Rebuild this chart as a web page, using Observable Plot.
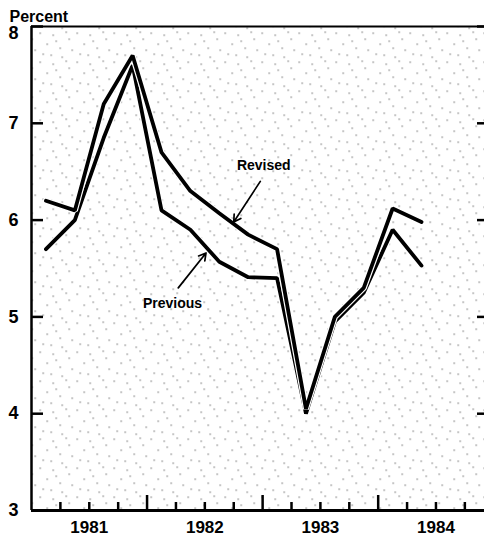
<!DOCTYPE html>
<html><head><meta charset="utf-8">
<script src="https://cdn.jsdelivr.net/npm/d3@7"></script>
<script src="https://cdn.jsdelivr.net/npm/@observablehq/plot@0.6"></script>
<style>
body{margin:0;background:#fff}
#chart svg{display:block}
</style>
</head><body><div id="chart"></div>
<script>
// ---- data ----
const quarters = ["1981Q1","1981Q2","1981Q3","1981Q4","1982Q1","1982Q2","1982Q3","1982Q4","1983Q1","1983Q2","1983Q3","1983Q4","1984Q1","1984Q2"];
const revised  = [6.2, 6.1, 7.2, 7.7, 6.7, 6.3, 6.07, 5.85, 5.7, 4.05, 5.0, 5.3, 6.12, 5.98];
const previous = [5.7, 6.0, 6.85, 7.6, 6.1, 5.9, 5.57, 5.41, 5.4, 4.0, 4.95, 5.25, 5.9, 5.53];
const yTicks = [3, 4, 5, 6, 7, 8];
const yTickLabels = [3, 4, 5, 6, 7];
const yTopLabel = [8];
const years = [1981, 1982, 1983, 1984];
const yearBoundaries = [1982, 1983, 1984];
const quarterBoundaries = [1981.25, 1981.5, 1981.75, 1982.25, 1982.5, 1982.75, 1983.25, 1983.5, 1983.75, 1984.25, 1984.5, 1984.75];
const labelNames = ["Revised", "Previous"];
const labelX = [1983.01, 1982.22];
const labelY = [6.56, 5.14];
const arrowFromX = [1982.98, 1982.27];
const arrowFromY = [6.40, 5.30];
const arrowToX = [1982.75, 1982.51];
const arrowToY = [5.98, 5.66];

const qx = q => +q.slice(0, 4) + (+q.slice(5) - 0.5) / 4;
const revData = quarters.map((q, i) => ({x: qx(q), y: revised[i]}));
const prevData = quarters.map((q, i) => ({x: qx(q), y: previous[i]}));
const labels = labelNames.map((t, i) => ({text: t, x: labelX[i], y: labelY[i]}));
const arrows = labelNames.map((t, i) => ({x1: arrowFromX[i], y1: arrowFromY[i], x2: arrowToX[i], y2: arrowToY[i]}));

const font = "'Liberation Sans', Arial, Helvetica, sans-serif";

const chart = Plot.plot({
  width: 484,
  height: 538,
  marginLeft: 31,
  marginRight: 0,
  marginTop: 26,
  marginBottom: 28,
  style: {fontFamily: font, fontWeight: "bold", fontSize: "16px", color: "#000", background: "#fff"},
  x: {domain: [1981, 1984.92]},
  y: {domain: [3, 8]},
  marks: [
    Plot.frame({fill: "url(#stipple)", stroke: null}),
    // y ticks (inward) left and right
    Plot.axisY(yTicks, {anchor: "left", tickSize: -12, tickFormat: () => "", label: null, strokeWidth: 2.5}),
    Plot.axisY(yTicks, {anchor: "right", tickSize: -8, tickFormat: () => "", label: null, strokeWidth: 2.5}),
    Plot.axisY(yTickLabels, {anchor: "left", tickSize: 0, tickPadding: 13, tickFormat: d => String(d), label: null, fontSize: 18, fontWeight: "bold"}),
    Plot.axisY(yTopLabel, {anchor: "left", tickSize: 0, tickPadding: 13, tickFormat: d => String(d), label: null, fontSize: 18, fontWeight: "bold", dy: 7}),
    // x ticks (inward)
    Plot.axisX(quarterBoundaries, {anchor: "bottom", tickSize: -8, tickFormat: () => "", label: null, strokeWidth: 2.5}),
    Plot.axisX(yearBoundaries, {anchor: "bottom", tickSize: -15, tickFormat: () => "", label: null, strokeWidth: 2.5}),
    Plot.axisX(years.map(y => y + 0.5), {anchor: "bottom", tickSize: 0, tickPadding: 10, tickFormat: d => String(Math.floor(d)), label: null, fontSize: 17, fontWeight: "bold"}),
    // frame lines
    Plot.ruleX([1981], {strokeWidth: 2.5}),
    Plot.ruleY([3], {strokeWidth: 3}),
    Plot.ruleY([8], {strokeWidth: 2}),
    // series
    Plot.line(prevData, {x: "x", y: "y", stroke: "#fff", strokeWidth: 6.2, strokeLinejoin: "miter"}),
    Plot.line(prevData, {x: "x", y: "y", stroke: "#000", strokeWidth: 3.8, strokeLinejoin: "miter"}),
    Plot.line(revData, {x: "x", y: "y", stroke: "#fff", strokeWidth: 6.2, strokeLinejoin: "miter"}),
    Plot.line(revData, {x: "x", y: "y", stroke: "#000", strokeWidth: 3.8, strokeLinejoin: "miter"}),
    // annotations
    Plot.arrow(arrows, {x1: "x1", y1: "y1", x2: "x2", y2: "y2", stroke: "#000", strokeWidth: 1.7, headLength: 7}),
    Plot.text(labels, {x: "x", y: "y", text: "text", fontSize: 14, fontWeight: "bold", fill: "#000"}),
    Plot.text(["Percent"], {frameAnchor: "top-left", dx: -22, dy: -5, lineAnchor: "bottom", textAnchor: "start", fontSize: 16, fontWeight: "bold", fill: "#000"})
  ]
});

// stipple texture (decoration only)
const ns = "http://www.w3.org/2000/svg";
const defs = document.createElementNS(ns, "defs");
const pat = document.createElementNS(ns, "pattern");
pat.setAttribute("id", "stipple");
pat.setAttribute("patternUnits", "userSpaceOnUse");
pat.setAttribute("width", "37");
pat.setAttribute("height", "29");
const bg = document.createElementNS(ns, "rect");
bg.setAttribute("width", "37"); bg.setAttribute("height", "29"); bg.setAttribute("fill", "#fff");
pat.appendChild(bg);
const dots = [[2,3],[9,14],[15,5],[22,18],[31,9],[5,24],[18,11],[28,2],[13,25],[34,20],[24,27]];
for (const [dx, dy] of dots) {
  const r = document.createElementNS(ns, "rect");
  r.setAttribute("x", dx); r.setAttribute("y", dy);
  r.setAttribute("width", "1.3"); r.setAttribute("height", "1.3");
  r.setAttribute("fill", "#777");
  pat.appendChild(r);
}
defs.appendChild(pat);
chart.insertBefore(defs, chart.firstChild);

document.getElementById("chart").appendChild(chart);
</script>
</body></html>
